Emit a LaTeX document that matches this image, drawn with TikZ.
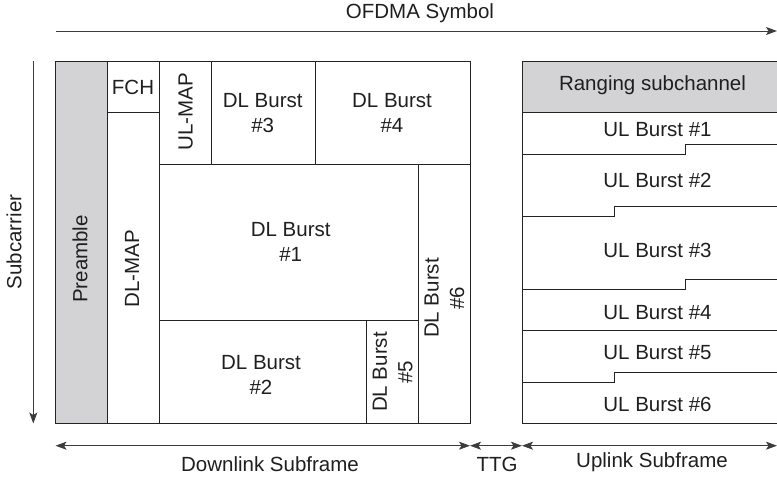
\documentclass[tikz,border=0pt]{standalone}
\usepackage{fontspec}
\setmainfont{Liberation Sans}
\usetikzlibrary{arrows.meta}
\definecolor{boxgray}{RGB}{211,211,213}
\definecolor{linecol}{RGB}{35,35,35}
\definecolor{arrcol}{RGB}{60,60,60}
\begin{document}
\begin{tikzpicture}[x=1pt,y=-1pt,
  box/.style={draw=linecol,line width=1pt},
  shaded/.style={box,fill=boxgray},
  lbl/.style={inner sep=0pt,align=center,font=\fontsize{20.5}{25.5}\selectfont,text=black!88},
  tip/.style={Stealth[length=11pt,width=8pt,inset=2.5pt]},
  dimarrow/.style={draw=arrcol,line width=1pt,-{Stealth[length=11pt,width=8pt,inset=2.5pt]}},
  dimboth/.style={draw=arrcol,line width=1pt,{Stealth[length=11pt,width=8pt,inset=2.5pt]}-{Stealth[length=11pt,width=8pt,inset=2.5pt]}}]
\useasboundingbox (0,0) rectangle (777,480);
% named coordinates
\coordinate (tA) at (55.5,31);
\coordinate (tB) at (777,31);
\coordinate (sA) at (33.3,61);
\coordinate (sB) at (33.3,423.5);
\coordinate (b0) at (55.5,445.7);
\coordinate (b1) at (470,445.7);
\coordinate (b2) at (522,445.7);
\coordinate (b3) at (777,445.7);
% axis arrows
\draw[dimarrow] (tA) -- (tB);
\node[lbl] (ofdma) at (420,13) {OFDMA Symbol};
\draw[dimarrow] (sA) -- (sB);
\node[lbl,rotate=90] (subc) at (14,242) {Subcarrier};
% downlink subframe
\draw[shaded] (55.5,61) rectangle (107.3,423.5);
\draw[box] (107.3,61) rectangle (159.3,112.7);
\draw[box] (107.3,112.7) rectangle (159.3,423.5);
\draw[box] (159.3,61) rectangle (211,164.7);
\draw[box] (211,61) rectangle (315,164.7);
\draw[box] (315,61) rectangle (470,164.7);
\draw[box] (159.3,164.7) rectangle (418.7,320.3);
\draw[box] (418.7,164.7) rectangle (470,423.5);
\draw[box] (159.3,320.3) rectangle (366.7,423.5);
\draw[box] (366.7,320.3) rectangle (418.7,423.5);
\node[lbl,rotate=90] (pre) at (80,259) {Preamble};
\node[lbl] (fch) at (133,87) {FCH};
\node[lbl,rotate=90] (dlmap) at (132,269) {DL-MAP};
\node[lbl,rotate=90] (ulmap) at (185.7,112) {UL-MAP};
\node[lbl] (dl3) at (262.7,113) {DL Burst\\\#3};
\node[lbl] (dl4) at (392,113) {DL Burst\\\#4};
\node[lbl] (dl1) at (290.7,242) {DL Burst\\\#1};
\node[lbl] (dl2) at (261,375) {DL Burst\\\#2};
\node[lbl,rotate=90] (dl5) at (392.7,372) {DL Burst\\\#5};
\node[lbl,rotate=90] (dl6) at (444.5,298) {DL Burst\\\#6};
% uplink subframe
\fill[boxgray] (522,61) rectangle (777,112.3);
\draw[box] (777,61) -- (522,61) -- (522,423.5) -- (777,423.5);
\draw[box] (522,112.3) -- (777,112.3);
\draw[box] (522,154) -- (685.3,154) -- (685.3,144.3) -- (777,144.3);
\draw[box] (522,216.7) -- (614.3,216.7) -- (614.3,206.7) -- (777,206.7);
\draw[box] (522,289) -- (685.3,289) -- (685.3,279.3) -- (777,279.3);
\draw[box] (522,330.3) -- (777,330.3);
\draw[box] (522,382.7) -- (614.3,382.7) -- (614.3,372.7) -- (777,372.7);
\node[lbl] (rang) at (652.5,85) {Ranging subchannel};
\node[lbl] (ul1) at (657.5,130) {UL Burst \#1};
\node[lbl] (ul2) at (657.5,180) {UL Burst \#2};
\node[lbl] (ul3) at (657.5,250) {UL Burst \#3};
\node[lbl] (ul4) at (657.5,313) {UL Burst \#4};
\node[lbl] (ul5) at (657.5,353) {UL Burst \#5};
\node[lbl] (ul6) at (657.5,404) {UL Burst \#6};
% bottom dimension arrows
\draw[dimboth] (b0) -- (b1);
\draw[dimboth] (b1) -- (b2);
\draw[dimboth] (b2) -- (b3);
\node[lbl] (dlsf) at (270,464) {Downlink Subframe};
\node[lbl] (ttg) at (497,464) {TTG};
\node[lbl] (ulsf) at (652,462) {Uplink Subframe};
\end{tikzpicture}
\end{document}
